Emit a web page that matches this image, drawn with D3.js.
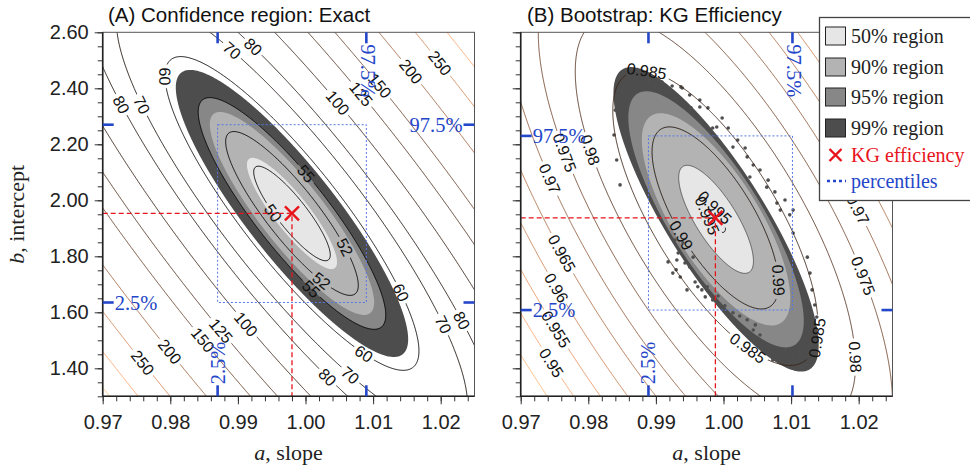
<!DOCTYPE html>
<html><head><meta charset="utf-8">
<script src="https://d3js.org/d3.v7.min.js"></script>
<style>
body{margin:0;background:#fff;}
svg{display:block;}
</style></head><body>
<svg id="chart" width="970" height="471"></svg>
<script>
// ---------------- data ----------------
const xDomain = [0.97, 1.025];
const yDomain = [1.30, 2.60];
const xTickValues = [0.97, 0.98, 0.99, 1.00, 1.01, 1.02];
const yTickValues = [1.40, 1.60, 1.80, 2.00, 2.20, 2.40, 2.60];
const xMinorTicks = d3.range(0, 28).map(i => +(0.97 + i * 0.002).toFixed(3));
const yMinorTicks = d3.range(0, 27).map(i => +(1.30 + i * 0.05).toFixed(2));

const regionNames = ["50% region", "90% region", "95% region", "99% region"];
const regionColors = ["#e6e6e6", "#b3b3b3", "#878787", "#4d4d4d"];

// (A) exact objective surface: S = min + quadratic(da, db)
const exactCenter = [0.998, 1.953];
const exactMin = 49;
const exactQuad = [134350, 3947, 151];          // da^2, 2 da db, db^2
const exactChi2 = [1.386, 4.605, 5.991, 9.210];  // 50/90/95/99 %
const exactLevels = [50, 52, 55, 60, 70, 80, 100, 125, 150, 200, 250, 300, 350];
const exactLabels = [
  [60,0.9807,2.437],[60,1.0140,1.669],[60,1.0088,1.458],
  [70,0.9758,2.340],[70,0.9888,2.526],[70,1.0069,1.383],[70,1.0203,1.555],
  [80,0.9726,2.340],[80,0.9918,2.537],[80,1.0033,1.369],[80,1.0232,1.572],
  [100,1.0047,2.347],[100,0.9911,1.555],
  [125,1.0084,2.383],[125,0.9871,1.526],
  [150,1.0106,2.401],[150,0.9848,1.501],
  [200,1.0155,2.458],[200,0.9797,1.455],
  [250,1.0199,2.490],[250,0.9755,1.412],
  [50,0.9952,1.955],
  [52,1.0056,1.830],[52,1.0021,1.705],
  [55,1.0002,2.098],[55,1.0007,1.680]
];
const exactBest = [0.998, 1.953];
const exactPctA = [0.987, 1.009];
const exactPctB = [1.635, 2.270];

// (B) KG efficiency surface and bootstrap cloud
const kgeCenter = [0.9988, 1.937];
const kgeGap = 0.0048;                           // 1 - max KGE
const kgeQuad = [1.8554, 0.03881, 0.0015398];
const kgeLevels = [0.94, 0.945, 0.95, 0.955, 0.96, 0.965, 0.97, 0.975, 0.98, 0.985, 0.99, 0.995];
const kgeLabels = [
  [0.985,0.9887,2.4725],[0.985,1.0027,1.444],[0.985,1.0132,1.512],
  [0.98,0.9803,2.180],[0.98,1.0184,1.440],
  [0.975,0.9763,2.169],[0.975,1.0202,1.726],
  [0.97,0.9739,2.073],[0.97,1.0197,1.965],
  [0.965,0.9751,1.797],[0.96,0.9740,1.669],[0.955,0.9743,1.526],[0.95,0.9736,1.405],
  [0.99,0.9925,1.857],[0.99,1.0084,1.715],
  [0.995,1.0005,2.008],[0.995,0.9975,1.945]
];
const bootMean = [0.9989, 1.932];
const bootSd = [0.00457, 0.1606];
const bootRho = -0.787;
const bootRadiiMajor = [1.2, 2.35, 2.85, 3.4];   // 50/90/95/99 % along the long axis (in sd)
const bootRadiiMinor = [1.25, 2.6, 2.8, 3.0];    // across it (in sd)
const bootOutliers = [
  [0.9908,2.419],[0.9921,2.387],[0.9937,2.405],[0.9928,2.365],[0.9943,2.340],[0.9952,2.330],
  [0.9899,2.405],[0.9891,2.430],[0.9939,2.401],[0.9909,2.422],[0.9984,2.258],[1.0044,2.126],
  [1.0014,2.190],[1.0035,2.155],[0.9925,1.740],[0.9936,1.726],[0.9931,1.787],[0.9955,1.797],
  [0.9950,1.762],[0.9940,1.848],[0.9933,1.812],[0.9943,1.776],[0.9962,1.691],[0.9973,1.655],
  [0.9984,1.644],[0.9928,1.858],[0.9946,1.680],[0.9976,1.691],[1.0014,1.598],[1.0035,1.573],
  [1.0044,1.537],[1.0058,1.490],[1.0073,1.455],[1.0084,1.441],[1.0098,1.419],[1.0109,1.423],
  [1.0073,1.430],[1.0079,1.990],[1.0103,1.965],[1.0124,1.797],[1.0128,1.740],[1.0138,1.583],
  [1.0113,1.455],[0.9965,2.333],[0.9990,2.262],[1.0039,2.083],[1.0064,2.047],[1.0084,1.965],
  [1.0103,1.883],
  [0.9924,2.408],[0.9950,2.376],[0.9965,2.358],[0.9977,2.330],[0.9998,2.294],[1.0007,2.258],
  [1.0021,2.215],[1.0032,2.187],[1.0054,2.108],[1.0066,2.072],[1.0076,2.030],[1.0091,2.001],
  [1.0098,1.948],[0.9918,1.780],[0.9930,1.752],[0.9958,1.708],[0.9968,1.680],[0.9992,1.658],
  [1.0002,1.623],[1.0024,1.587],[1.0047,1.555],[1.0054,1.519],[1.0066,1.480],[1.0091,1.466],
  [1.0101,1.437],[1.0116,1.402],[1.0122,1.412],[1.0131,1.680],[1.0135,1.626],[1.0134,1.537],
  [1.0128,1.484],[1.0121,1.644],[0.9840,2.322],[0.9838,2.233],[0.9842,2.144],[0.9847,2.055],
  [0.9862,2.447],[0.9872,2.458],[0.9884,2.447]
];
const bootBest = [0.9988, 1.937];
const bootPctA = [0.9889, 1.0102];
const bootPctB = [1.608, 2.230];

// ---------------- styles ----------------
const SANS = "'Liberation Sans', Arial, Helvetica, sans-serif";
const SERIF = "'Liberation Serif', 'Times New Roman', serif";
const BLUE = "#2446c8", BLUE_LIGHT = "#5677e6", RED = "#e8141c";
function copper(t){ t = Math.max(0, Math.min(1, t));
  return d3.rgb(255*Math.min(1,1.25*t), 255*0.7812*t, 255*0.4975*t).formatHex(); }

const svg = d3.select("#chart");
const defs = svg.append("defs");

// ---------------- fields ----------------
function exactS(a, b){ const da=a-exactCenter[0], db=b-exactCenter[1];
  return exactMin + exactQuad[0]*da*da + 2*exactQuad[1]*da*db + exactQuad[2]*db*db; }
function exactDelta(a, b){ return exactS(a,b) - exactMin; }
function kge(a, b){ const da=a-kgeCenter[0], db=b-kgeCenter[1];
  return 1 - Math.sqrt(kgeGap*kgeGap + kgeQuad[0]*da*da + 2*kgeQuad[1]*da*db + kgeQuad[2]*db*db); }

// bootstrap regions: ellipses on the principal axes of the bootstrap covariance (as plotted)
function makeBootRegion(x, y){
  const kx = Math.abs(x(1) - x(0)), ky = Math.abs(y(1) - y(0));
  const sxx = (bootSd[0]*kx)**2, syy = (bootSd[1]*ky)**2, sxy = bootRho*bootSd[0]*bootSd[1]*kx*ky;
  const tr = sxx + syy, det = sxx*syy - sxy*sxy, disc = Math.sqrt(tr*tr/4 - det);
  const l1 = tr/2 + disc, l2 = tr/2 - disc;
  let e1 = [sxy, l1 - sxx]; const n1 = Math.hypot(e1[0], e1[1]); e1 = [e1[0]/n1, e1[1]/n1];
  const e2 = [-e1[1], e1[0]];
  return k => (a, b) => {
    const u = (a - bootMean[0])*kx, v = (b - bootMean[1])*ky;
    const p = u*e1[0] + v*e1[1], q = u*e2[0] + v*e2[1];
    return p*p/(l1*bootRadiiMajor[k]**2) + q*q/(l2*bootRadiiMinor[k]**2);
  };
}

function drawPanel(c){
  const bx = c.box;
  const x = d3.scaleLinear().domain(xDomain).range([bx.left, bx.right]);
  const y = d3.scaleLinear().domain(yDomain).range([bx.bottom, bx.top]);
  const regionField = c.regionField(x, y);
  const g = svg.append("g");
  const clipId = "clip" + c.id;
  defs.append("clipPath").attr("id", clipId).append("rect")
    .attr("x", bx.left).attr("y", bx.top).attr("width", bx.right-bx.left).attr("height", bx.bottom-bx.top);

  const pad = 4, step = 1;
  const gx0 = bx.left - pad, gy0 = bx.top - pad;
  const nx = Math.ceil((bx.right-bx.left+2*pad)/step), ny = Math.ceil((bx.bottom-bx.top+2*pad)/step);
  const grid = fn => { const v = new Float64Array(nx*ny);
    for (let j=0;j<ny;j++){ const bb = y.invert(gy0+(j+0.5)*step);
      for (let i=0;i<nx;i++) v[j*nx+i] = fn(x.invert(gx0+(i+0.5)*step), bb); }
    return v; };
  const path = d3.geoPath(d3.geoTransform({point(px,py){ this.stream.point(gx0+px*step, gy0+py*step); }}));

  const plot = g.append("g").attr("clip-path", `url(#${clipId})`);

  // confidence regions, outermost (99%) first
  const regG = plot.append("g");
  [3, 2, 1, 0].forEach(k => {
    const vals = grid((a,b) => -regionField(k)(a,b));
    const cont = d3.contours().size([nx,ny]).thresholds([-c.regionThr(k)])(vals);
    regG.append("path").datum(cont[0]).attr("d", path)
      .attr("fill", regionColors[k])
      .attr("stroke", (c.outline50 && k === 0) ? "#4a4a4a" : "none")
      .attr("stroke-width", 0.8);
  });

  // bootstrap outliers
  if (c.outliers){
    plot.append("g").selectAll("circle").data(c.outliers).join("circle")
      .attr("cx", d => x(d[0])).attr("cy", d => y(d[1])).attr("r", 1.8).attr("fill", "#4f4f4f");
  }

  // contour lines
  const lineVals = grid((a,b) => c.sign*c.field(a,b));
  const lineCont = d3.contours().size([nx,ny]).thresholds(c.levels.map(L => c.sign*L))(lineVals);
  const maskId = "mask" + c.id;
  const mask = defs.append("mask").attr("id", maskId).attr("maskUnits", "userSpaceOnUse")
    .attr("x", 0).attr("y", 0).attr("width", 970).attr("height", 471);
  mask.append("rect").attr("x",0).attr("y",0).attr("width",970).attr("height",471).attr("fill","#fff");
  plot.append("g").attr("mask", `url(#${maskId})`)
    .selectAll("path").data(lineCont).join("path")
    .attr("d", path).attr("fill", "none")
    .attr("stroke", d => c.lineColor(c.sign*d.value))
    .attr("stroke-width", 0.9);

  // contour labels, snapped to their level and aligned with the line
  const fpx = (px,py) => c.field(x.invert(px), y.invert(py));
  const labG = plot.append("g");
  c.labels.forEach(([L, a, b]) => {
    let px = x(a), py = y(b);
    for (let k=0;k<60;k++){
      const h = 0.5, v = fpx(px,py);
      const gxv = (fpx(px+h,py)-fpx(px-h,py))/(2*h), gyv = (fpx(px,py+h)-fpx(px,py-h))/(2*h);
      const g2 = gxv*gxv + gyv*gyv; if (!(g2 > 0)) break;
      let dx = -(v-L)*gxv/g2, dy = -(v-L)*gyv/g2;
      const len = Math.hypot(dx,dy); if (len > 2){ dx *= 2/len; dy *= 2/len; }
      px += dx; py += dy; if (len < 1e-3) break;
    }
    const h = 0.5;
    const gxv = (fpx(px+h,py)-fpx(px-h,py))/(2*h), gyv = (fpx(px,py+h)-fpx(px,py-h))/(2*h);
    let ang = Math.atan2(gxv, -gyv) * 180/Math.PI;
    if (ang > 90) ang -= 180; if (ang <= -90) ang += 180;
    const t = labG.append("text")
      .attr("transform", `translate(${px},${py}) rotate(${ang})`)
      .attr("text-anchor", "middle").attr("dy", "0.36em")
      .attr("font-family", SANS).attr("font-size", 16).attr("fill", "#111")
      .text(String(L));
    const w = t.node().getComputedTextLength();
    mask.append("rect").attr("x", -w/2-3).attr("y", -7).attr("width", w+6).attr("height", 14)
      .attr("transform", `translate(${px},${py}) rotate(${ang})`).attr("fill", "#000");
  });

  // percentile box
  plot.append("rect")
    .attr("x", x(c.pctA[0])).attr("y", y(c.pctB[1]))
    .attr("width", x(c.pctA[1])-x(c.pctA[0])).attr("height", y(c.pctB[0])-y(c.pctB[1]))
    .attr("fill", "none").attr("stroke", BLUE_LIGHT).attr("stroke-width", 1).attr("stroke-dasharray", "2,2");

  // red best-estimate guides
  plot.append("path")
    .attr("d", `M${bx.left},${y(c.best[1])}H${x(c.best[0])}V${bx.bottom}`)
    .attr("fill", "none").attr("stroke", RED).attr("stroke-width", 1.3).attr("stroke-dasharray", "5,3");
  const X = g.append("g").attr("transform", `translate(${x(c.best[0])},${y(c.best[1])})`)
    .attr("stroke", RED).attr("stroke-width", 2.4);
  X.append("line").attr("x1",-7).attr("y1",-7).attr("x2",7).attr("y2",7);
  X.append("line").attr("x1",-7).attr("y1",7).attr("x2",7).attr("y2",-7);

  // frame
  g.append("rect").attr("x", bx.left).attr("y", bx.top).attr("width", bx.right-bx.left)
    .attr("height", bx.bottom-bx.top).attr("fill","none").attr("stroke","#555").attr("stroke-width",1);

  // axes
  const styleAxis = sel => { sel.select(".domain").remove();
    sel.selectAll(".tick line").attr("stroke","#333").attr("stroke-width",1);
    sel.selectAll(".tick text").attr("font-family", SANS).attr("font-size", 20).attr("fill","#222"); };
  g.append("g").attr("transform", `translate(0,${bx.bottom})`)
    .call(d3.axisBottom(x).tickValues(xMinorTicks).tickSize(5).tickFormat(() => "")).call(styleAxis);
  g.append("g").attr("transform", `translate(0,${bx.bottom})`)
    .call(d3.axisBottom(x).tickValues(xTickValues).tickSize(8).tickPadding(11).tickFormat(d3.format(".2f"))).call(styleAxis);
  g.append("g").attr("transform", `translate(${bx.left},0)`)
    .call(d3.axisLeft(y).tickValues(yMinorTicks).tickSize(5).tickFormat(() => "")).call(styleAxis);
  g.append("g").attr("transform", `translate(${bx.left},0)`)
    .call(d3.axisLeft(y).tickValues(yTickValues).tickSize(8).tickPadding(6)
      .tickFormat(c.yLabels ? d3.format(".2f") : () => "")).call(styleAxis);
  g.append("path").attr("d", `M${bx.left},${bx.top}V${bx.bottom}H${bx.right}`)
    .attr("fill","none").attr("stroke","#222").attr("stroke-width",1.6);

  // percentile ticks
  const bt = g.append("g").attr("stroke", BLUE).attr("stroke-width", 2.6);
  c.pctA.forEach(a => {
    bt.append("line").attr("x1", x(a)).attr("x2", x(a)).attr("y1", bx.top).attr("y2", bx.top+11);
    bt.append("line").attr("x1", x(a)).attr("x2", x(a)).attr("y1", bx.bottom).attr("y2", bx.bottom-11);
  });
  c.pctB.forEach(b => {
    bt.append("line").attr("y1", y(b)).attr("y2", y(b)).attr("x1", bx.left).attr("x2", bx.left+11);
    bt.append("line").attr("y1", y(b)).attr("y2", y(b)).attr("x1", bx.right).attr("x2", bx.right-11);
  });
  const pctText = ["2.5%", "97.5%"];
  c.pctLabels.forEach(([side, i]) => {
    let tr, anchor = "start";
    if (side === "top") tr = `translate(${x(c.pctA[i])+2},${bx.top+12}) rotate(90)`;
    if (side === "bottom") tr = `translate(${x(c.pctA[i])},${bx.bottom-12}) rotate(-90)`;
    if (side === "left") tr = `translate(${bx.left+12},${y(c.pctB[i])})`;
    if (side === "right") { tr = `translate(${bx.right-12},${y(c.pctB[i])})`; anchor = "end"; }
    g.append("text").attr("transform", tr).attr("text-anchor", anchor).attr("dominant-baseline","central")
      .attr("font-family", SERIF).attr("font-size", 20.5).attr("fill", BLUE).text(pctText[i]);
  });

  // titles
  g.append("text").attr("x", c.titleX).attr("y", 22).attr("font-family", SANS).attr("font-size", 20.5)
    .attr("fill","#111").text(c.title);
  const xl = g.append("text").attr("x", (bx.left+bx.right)/2).attr("y", 460).attr("text-anchor","middle")
    .attr("font-family", SERIF).attr("font-size", 22).attr("fill","#222");
  xl.append("tspan").attr("font-style","italic").text("a");
  xl.append("tspan").text(", slope");
  if (c.yLabels){
    const yl = g.append("text").attr("transform", `translate(24,${(bx.top+bx.bottom)/2}) rotate(-90)`)
      .attr("text-anchor","middle").attr("font-family", SERIF).attr("font-size", 22).attr("fill","#222");
    yl.append("tspan").attr("font-style","italic").text("b");
    yl.append("tspan").text(", intercept");
  }
}

drawPanel({
  id: "A", box: {left: 102.7, right: 474.5, top: 32.3, bottom: 396.3},
  title: "(A) Confidence region: Exact", titleX: 108, yLabels: true,
  field: exactS, sign: -1, levels: exactLevels,
  lineColor: L => copper((L - 50)/300),
  regionField: () => k => exactDelta, regionThr: k => exactChi2[k],
  labels: exactLabels, pctA: exactPctA, pctB: exactPctB, best: exactBest,
  pctLabels: [["top",1],["right",1],["left",0],["bottom",0]]
});
drawPanel({
  id: "B", box: {left: 520.7, right: 892.5, top: 32.3, bottom: 396.3},
  title: "(B) Bootstrap: KG Efficiency", titleX: 527, yLabels: false,
  field: kge, sign: 1, levels: kgeLevels,
  lineColor: L => copper((0.995 - L)/0.055),
  regionField: makeBootRegion, regionThr: k => 1, outline50: true,
  outliers: bootOutliers,
  labels: kgeLabels, pctA: bootPctA, pctB: bootPctB, best: bootBest,
  pctLabels: [["top",1],["left",1],["left",0],["bottom",0]]
});

// ---------------- legend ----------------
const lg = svg.append("g");
lg.append("rect").attr("x", 819.5).attr("y", 17.5).attr("width", 170).attr("height", 183)
  .attr("fill", "#fff").attr("stroke", "#444").attr("stroke-width", 1.3);
const rowY = [36, 67, 97, 128];
const LEG_FS = 20;
regionNames.forEach((name, i) => {
  lg.append("rect").attr("x", 825.5).attr("y", rowY[i]-9).attr("width", 20).attr("height", 18)
    .attr("fill", regionColors[i]).attr("stroke", "#222").attr("stroke-width", 1);
  lg.append("text").attr("x", 851).attr("y", rowY[i]+7).attr("font-family", SERIF).attr("font-size", LEG_FS)
    .attr("fill", "#222").text(name);
});
const lx = lg.append("g").attr("transform", "translate(835.5,155)").attr("stroke", RED).attr("stroke-width", 2.4);
lx.append("line").attr("x1",-6).attr("y1",-6).attr("x2",6).attr("y2",6);
lx.append("line").attr("x1",-6).attr("y1",6).attr("x2",6).attr("y2",-6);
lg.append("text").attr("x", 851).attr("y", 162).attr("font-family", SERIF).attr("font-size", LEG_FS)
  .attr("fill", RED).text("KG efficiency");
lg.append("line").attr("x1", 827).attr("x2", 846).attr("y1", 181).attr("y2", 181)
  .attr("stroke", BLUE).attr("stroke-width", 2.6).attr("stroke-dasharray", "3,3");
lg.append("text").attr("x", 851).attr("y", 188).attr("font-family", SERIF).attr("font-size", LEG_FS)
  .attr("fill", BLUE).text("percentiles");
</script>
</body></html>
